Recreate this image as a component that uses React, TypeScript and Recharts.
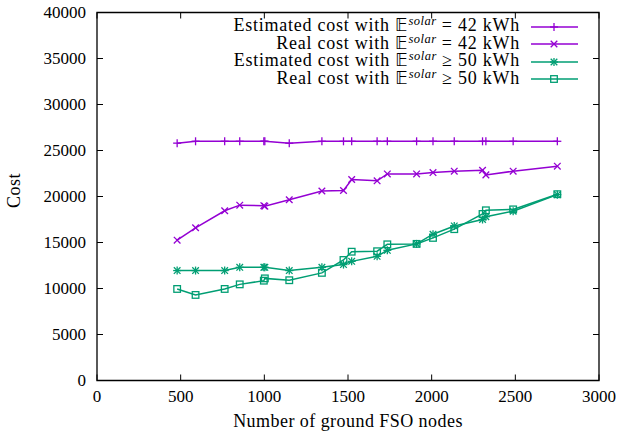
import React from 'react';
import { LineChart, Line, XAxis, YAxis, ReferenceArea, Legend } from 'recharts';

const nodes = [479, 589, 763, 853, 997, 1003, 1149, 1344, 1473, 1522, 1674, 1735, 1910, 2008, 2135, 2304, 2324, 2487, 2751];
const estimated42 = [25800, 26000, 26000, 26000, 26000, 26000, 25800, 26000, 26000, 26000, 26000, 26000, 26000, 26000, 26000, 26000, 26000, 26000, 26000];
const real42 = [15250, 16600, 18450, 19060, 19000, 18950, 19650, 20600, 20650, 21850, 21700, 22450, 22450, 22600, 22750, 22850, 22350, 22750, 23300];
const estimated50 = [11950, 11950, 11950, 12300, 12300, 12300, 11950, 12300, 12600, 12950, 13500, 14150, 14850, 15900, 16800, 17500, 17800, 18400, 20200];
const real50 = [9950, 9300, 9950, 10450, 10850, 11100, 10900, 11700, 13100, 14000, 14050, 14800, 14850, 15500, 16450, 18100, 18500, 18600, 20250];

const xTicks = [0, 500, 1000, 1500, 2000, 2500, 3000];
const yTicks = [0, 5000, 10000, 15000, 20000, 25000, 30000, 35000, 40000];

const PURPLE = '#9400d3';
const GREEN = '#009e73';
const FONT = '"Liberation Serif", "Times New Roman", serif';
const TICK_FS = 17;
const LABEL_FS = 18;
const LS = 0.45;
const LEGEND_LS = 0.75;

const PLOT_W = 502;
const PLOT_H = 368;
const TICK = 6;

const data = nodes.map((n, i) => ({
  n,
  est42: estimated42[i],
  real42: real42[i],
  est50: estimated50[i],
  real50: real50[i],
}));

type Shape = 'plus' | 'cross' | 'star' | 'square';

function Marker({ cx, cy, color, shape }: { cx: number; cy: number; color: string; shape: Shape }) {
  const s = 4;
  const c = 3.3;
  const sw = 1.3;
  if (shape === 'plus') {
    return (
      <g stroke={color} strokeWidth={sw}>
        <line x1={cx - s} y1={cy} x2={cx + s} y2={cy} />
        <line x1={cx} y1={cy - s} x2={cx} y2={cy + s} />
      </g>
    );
  }
  if (shape === 'cross') {
    return (
      <g stroke={color} strokeWidth={sw}>
        <line x1={cx - c} y1={cy - c} x2={cx + c} y2={cy + c} />
        <line x1={cx - c} y1={cy + c} x2={cx + c} y2={cy - c} />
      </g>
    );
  }
  if (shape === 'star') {
    return (
      <g stroke={color} strokeWidth={sw}>
        <line x1={cx - c} y1={cy - c} x2={cx + c} y2={cy + c} />
        <line x1={cx - c} y1={cy + c} x2={cx + c} y2={cy - c} />
        <line x1={cx - s} y1={cy} x2={cx + s} y2={cy} />
        <line x1={cx} y1={cy - s} x2={cx} y2={cy + s} />
      </g>
    );
  }
  return <rect x={cx - 3.3} y={cy - 3.3} width={6.6} height={6.6} fill="none" stroke={color} strokeWidth={sw} />;
}

const makeDot = (color: string, shape: Shape) => (props: any) => {
  const { cx, cy, index } = props;
  if (cx == null || cy == null) return <g key={index} />;
  return <Marker key={index} cx={cx} cy={cy} color={color} shape={shape} />;
};

const XTick = (props: any) => {
  const { x, y, payload } = props;
  return (
    <g>
      <line x1={x} y1={y} x2={x} y2={y - TICK} stroke="#000" strokeWidth={1} />
      <line x1={x} y1={y - PLOT_H} x2={x} y2={y - PLOT_H + TICK} stroke="#000" strokeWidth={1} />
      <text x={x} y={y + 21.5} textAnchor="middle" fontFamily={FONT} fontSize={TICK_FS} fill="#000">
        {payload.value}
      </text>
    </g>
  );
};

const YTick = (props: any) => {
  const { x, y, payload } = props;
  return (
    <g>
      <line x1={x} y1={y} x2={x + TICK} y2={y} stroke="#000" strokeWidth={1} />
      <line x1={x + PLOT_W} y1={y} x2={x + PLOT_W - TICK} y2={y} stroke="#000" strokeWidth={1} />
      <text x={x - 11} y={y + 5.5} textAnchor="end" fontFamily={FONT} fontSize={TICK_FS} fill="#000">
        {payload.value}
      </text>
    </g>
  );
};

const legendItems: { pre: string; rel: string; val: string; color: string; shape: Shape }[] = [
  { pre: 'Estimated cost with ', rel: '=', val: '42 kWh', color: PURPLE, shape: 'plus' },
  { pre: 'Real cost with ', rel: '=', val: '42 kWh', color: PURPLE, shape: 'cross' },
  { pre: 'Estimated cost with ', rel: '≥', val: '50 kWh', color: GREEN, shape: 'star' },
  { pre: 'Real cost with ', rel: '≥', val: '50 kWh', color: GREEN, shape: 'square' },
];

const LegendContent = () => (
  <div style={{ fontFamily: FONT, fontSize: LABEL_FS, letterSpacing: LEGEND_LS, color: '#000' }}>
    {legendItems.map((it, i) => (
      <div
        key={i}
        style={{ display: 'flex', alignItems: 'center', justifyContent: 'flex-end', height: 17.5, whiteSpace: 'nowrap' }}
      >
        <span style={{ lineHeight: '17px' }}>
          {it.pre}
          <span style={{ fontFamily: '"DejaVu Sans", sans-serif', fontSize: 17, letterSpacing: 0 }}>𝔼</span>
          <span style={{ fontStyle: 'italic', fontSize: 12.5, position: 'relative', top: -6, marginLeft: 1, letterSpacing: 0.5 }}>solar</span>
          {' '}{it.rel} {it.val}
        </span>
        <svg width={48} height={12} style={{ marginLeft: 11, display: 'block' }}>
          <line x1={0} y1={6} x2={47} y2={6} stroke={it.color} strokeWidth={1.5} />
          <Marker cx={23} cy={6} color={it.color} shape={it.shape} />
        </svg>
      </div>
    ))}
  </div>
);

export default function App() {
  return (
    <div style={{ position: 'absolute', left: 0, top: 0, width: 617, height: 437, overflow: 'hidden' }}>
      <LineChart
        width={617}
        height={437}
        data={data}
        margin={{ top: 12.5, right: 18, bottom: 0, left: 0 }}
      >
        <XAxis
          dataKey="n"
          type="number"
          domain={[0, 3000]}
          ticks={xTicks}
          interval={0}
          height={56.5}
          tickSize={0}
          tickMargin={0}
          axisLine={false}
          tickLine={false}
          tick={<XTick />}
          label={{
            content: (p: any) => {
              const vb = p.viewBox;
              return (
                <text x={vb.x + vb.width / 2} y={vb.y + 46.5} textAnchor="middle" fontFamily={FONT} fontSize={LABEL_FS} letterSpacing={LS} fill="#000">
                  Number of ground FSO nodes
                </text>
              );
            },
          }}
        />
        <YAxis
          type="number"
          domain={[0, 40000]}
          ticks={yTicks}
          interval={0}
          width={97}
          tickSize={0}
          tickMargin={0}
          axisLine={false}
          tickLine={false}
          tick={<YTick />}
          label={{
            content: (p: any) => {
              const vb = p.viewBox;
              const cx = vb.x + 14;
              const cy = vb.y + vb.height / 2 - 6;
              return (
                <text x={cx} y={cy} transform={`rotate(-90 ${cx} ${cy})`} textAnchor="middle" dominantBaseline="central" fontFamily={FONT} fontSize={LABEL_FS} letterSpacing={LS} fill="#000">
                  Cost
                </text>
              );
            },
          }}
        />
        <ReferenceArea x1={0} x2={3000} y1={0} y2={40000} fill="none" stroke="#000" strokeWidth={1.3} ifOverflow="visible" />
        <Legend
          layout="vertical"
          align="center"
          verticalAlign="middle"
          content={<LegendContent />}
          wrapperStyle={{ left: 139, top: 18, width: 440, height: 72 }}
        />
        <Line dataKey="est42" stroke={PURPLE} strokeWidth={1.5} dot={makeDot(PURPLE, 'plus')} isAnimationActive={false} />
        <Line dataKey="real42" stroke={PURPLE} strokeWidth={1.5} dot={makeDot(PURPLE, 'cross')} isAnimationActive={false} />
        <Line dataKey="est50" stroke={GREEN} strokeWidth={1.5} dot={makeDot(GREEN, 'star')} isAnimationActive={false} />
        <Line dataKey="real50" stroke={GREEN} strokeWidth={1.5} dot={makeDot(GREEN, 'square')} isAnimationActive={false} />
      </LineChart>
    </div>
  );
}
